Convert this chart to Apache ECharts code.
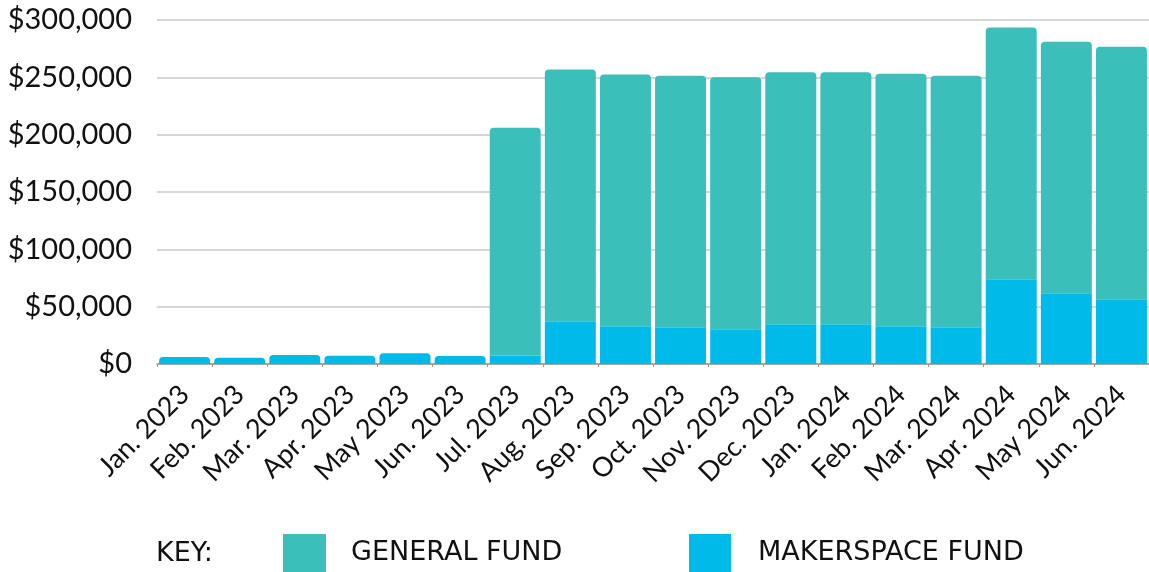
<!DOCTYPE html>
<html>
<head>
<meta charset="utf-8">
<script src="https://cdn.jsdelivr.net/npm/echarts@6/dist/echarts.min.js"></script>
<style>
html,body{margin:0;padding:0;background:#fff;}
#chart{width:1149px;height:572px;}
</style>
</head>
<body>
<div id="chart"></div>
<script>
const categories = ['Jan. 2023','Feb. 2023','Mar. 2023','Apr. 2023','May 2023','Jun. 2023','Jul. 2023','Aug. 2023','Sep. 2023','Oct. 2023','Nov. 2023','Dec. 2023','Jan. 2024','Feb. 2024','Mar. 2024','Apr. 2024','May 2024','Jun. 2024'];
const makerspaceFund = [6200, 5500, 7800, 7200, 9300, 7000, 7200, 37300, 33000, 32100, 30400, 34700, 34700, 33000, 32100, 74000, 61700, 56500];
const generalFund = [0, 0, 0, 0, 0, 0, 198800, 219500, 219500, 219200, 219700, 219800, 219800, 220100, 219200, 219500, 219300, 220100];
const yTicks = [0, 50000, 100000, 150000, 200000, 250000, 300000];
const seriesNames = ['GENERAL FUND', 'MAKERSPACE FUND'];

const TEAL = '#3bbfbb';
const BLUE = '#00bbea';

const chart = echarts.init(document.getElementById('chart'));
chart.setOption({
  animation: false,
  backgroundColor: '#fff',
  grid: { left: 157, right: 0, top: 20, bottom: 208, containLabel: false },
  graphic: [{
    type: 'text', left: 156, top: 540,
    style: { text: 'KEY:', fontSize: 27, fontFamily: 'DejaVu Sans', fill: '#111' }
  }],
  legend: [
    { data: [seriesNames[0]], left: 283, top: 534, itemWidth: 43, itemHeight: 38, icon: 'rect', padding: 0,
      textStyle: { fontSize: 27, fontFamily: 'DejaVu Sans', color: '#111', padding: [0, 0, 0, 20] } },
    { data: [seriesNames[1]], left: 689, top: 534, itemWidth: 42, itemHeight: 38, icon: 'rect', padding: 0,
      textStyle: { fontSize: 27, fontFamily: 'DejaVu Sans', color: '#111', padding: [0, 0, 0, 22] } }
  ],
  xAxis: {
    type: 'category',
    data: categories,
    axisLine: { lineStyle: { color: '#999', width: 1.5 } },
    axisTick: { show: true, length: 3, lineStyle: { color: '#999' } },
    axisLabel: { rotate: 45, fontSize: 27, fontFamily: 'Lato', color: '#111', margin: 26, interval: 0 }
  },
  yAxis: {
    type: 'value',
    min: 0, max: 300000, interval: 50000,
    axisLine: { show: false },
    axisTick: { show: false },
    splitLine: { lineStyle: { color: '#c8c8c8', width: 1.5 } },
    axisLabel: {
      fontSize: 29, fontFamily: 'Lato', color: '#111', margin: 25,
      customValues: yTicks,
      formatter: v => '$' + v.toLocaleString('en-US')
    }
  },
  series: [
    {
      name: seriesNames[1], type: 'bar', stack: 'total', barCategoryGap: '7.5%',
      itemStyle: { color: BLUE },
      data: makerspaceFund.map((v, i) => generalFund[i] === 0
        ? { value: v, itemStyle: { borderRadius: [4, 4, 0, 0] } }
        : v)
    },
    {
      name: seriesNames[0], type: 'bar', stack: 'total', barCategoryGap: '7.5%',
      itemStyle: { color: TEAL, borderRadius: [4, 4, 0, 0] },
      data: generalFund
    }
  ],
  color: [BLUE, TEAL]
});
</script>
</body>
</html>
